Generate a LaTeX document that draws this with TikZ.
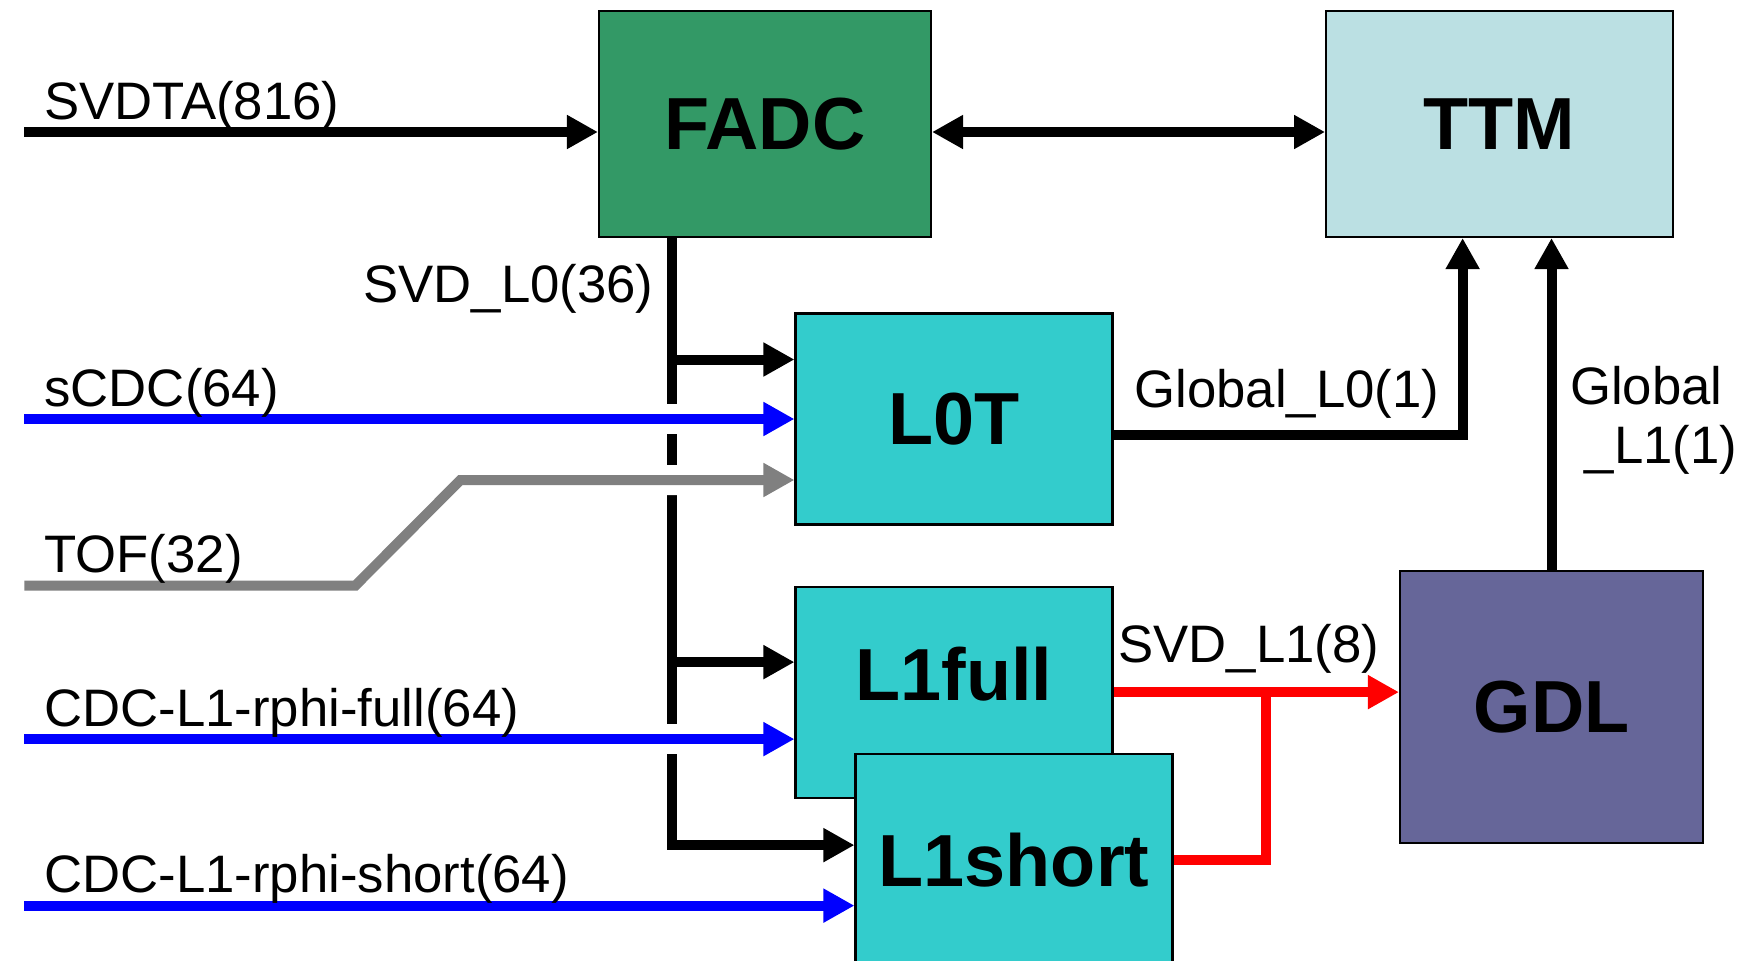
\documentclass[tikz,border=0pt]{standalone}
\usepackage{fontspec}
\setmainfont{Liberation Sans}
\usepackage{tikz}
\usetikzlibrary{positioning, calc, arrows.meta}

\definecolor{fadcgreen}{HTML}{339966}
\definecolor{ttmblue}{HTML}{BBE0E3}
\definecolor{trigcyan}{HTML}{33CCCC}
\definecolor{gdlpurple}{HTML}{666699}
\definecolor{tofgray}{HTML}{808080}

\tikzstyle{block} =
[
	draw,rectangle,line width=0.6pt,inner sep=0pt,
	font=\fontsize{21}{25}\selectfont\bfseries
]
\tikzstyle{trigbox} =
[
	block, fill=trigcyan,
	minimum width=31.7mm, minimum height=21.1mm
]
\tikzstyle{sig} = [line width=1mm]
\tikzstyle{lbl} = [inner sep=0pt, text=black, font=\fontsize{15}{17}\selectfont]
\tikzstyle{inlabel} = [lbl, anchor=base west, xshift=1.5mm, yshift=1.3mm]
\tikzstyle{crossing} = [preaction={draw=white, line width=3mm, -, shorten >=8mm}]

\begin{document}
\begin{tikzpicture}[->,>={Triangle[length=3.1mm,width=3.2mm]},sig]
\useasboundingbox (0,0) rectangle (17.47,9.60);

% trigger boards
\node[block, fill=fadcgreen, minimum width=33.2mm, minimum height=22.6mm] (FADC) at (7.65,8.36) {FADC};
\node[block, fill=ttmblue, minimum width=34.7mm, minimum height=22.6mm] (TTM) [right=3.93cm of FADC] {TTM};
\node[trigbox] (L0T) at (9.54,5.41) {L0T};
\node[trigbox, text depth=3.6mm] (L1full) [below=6mm of L0T] {L1full};
\node[trigbox] (L1short) at ($(L1full)+(6mm,-16.75mm)$) {L1short};
\node[block, fill=gdlpurple, minimum width=30.3mm, minimum height=27.2mm] (GDL) at (15.515,2.53) {GDL};

\coordinate (rim) at (0.245,0);
\coordinate (tap) at ($(FADC.south west)+(7.45mm,0)$);
\coordinate (l0Tap) at ([yshift=5.95mm]L0T.west);
\coordinate (fullTap) at ([yshift=3mm]L1full.west);
\coordinate (shortTap) at ([yshift=1.45mm]L1short.west);

% SVD data into FADC
\coordinate (svdtaTo) at ([yshift=-0.8mm]FADC.west);
\draw (rim |- svdtaTo) node[inlabel] {SVDTA(816)} -- (svdtaTo);
\draw[<->] ([yshift=-0.8mm]FADC.east) -- ([yshift=-0.8mm]TTM.west);

% SVD_L0 bus down to the trigger boards
\draw (tap) -- (tap |- shortTap) -- (shortTap);
\node[lbl, anchor=base east] (svdlz) at ($(tap)+(-1.4mm,-6.4mm)$) {SVD\_L0(36)};
\path
	(tap |- l0Tap) edge (l0Tap)
	(tap |- fullTap) edge (fullTap);

% CDC and TOF inputs
\draw[blue, crossing] (rim |- L0T.west) node[inlabel] {sCDC(64)} -- (L0T.west);

\coordinate (tofTo) at ([yshift=-6.1mm]L0T.west);
\coordinate (tofElbow) at ([xshift=-33.4mm]tofTo);
\coordinate (tofKnee) at ([xshift=-10.5mm,yshift=-10.55mm]tofElbow);
\draw[tofgray, crossing] (rim |- tofKnee) node[inlabel] {TOF(32)} -- (tofKnee) -- (tofElbow) -- (tofTo);

\coordinate (rphiFullTo) at ([yshift=-4.7mm]L1full.west);
\draw[blue, crossing] (rim |- rphiFullTo) node[inlabel] {CDC-L1-rphi-full(64)} -- (rphiFullTo);
\coordinate (rphiShortTo) at ([yshift=-4.6mm]L1short.west);
\draw[blue] (rim |- rphiShortTo) node[inlabel] {CDC-L1-rphi-short(64)} -- (rphiShortTo);

% global decisions up to TTM
\coordinate (gl0From) at ([yshift=-1.6mm]L0T.east);
\draw (gl0From) node[lbl, anchor=base west, xshift=1.6mm, yshift=2.8mm] {Global\_L0(1)} -| ([xshift=-3.7mm]TTM.south);
\draw (GDL.north) -- (GDL.north |- TTM.south);
\node[lbl, align=left, anchor=north west] (gloneTxt) at (15.65,5.99) {Global\\\hspace*{0.28em}\_L1(1)};

% SVD_L1 into GDL
\coordinate (svdMerge) at ([xshift=15.2mm]L1full.east);
\draw[red] (L1full.east) node[lbl, anchor=base west, xshift=0mm, yshift=3mm] {SVD\_L1(8)} -- (L1full.east -| GDL.west);
\draw[red, -] (L1short.east) -| (svdMerge);

\end{tikzpicture}
\end{document}
